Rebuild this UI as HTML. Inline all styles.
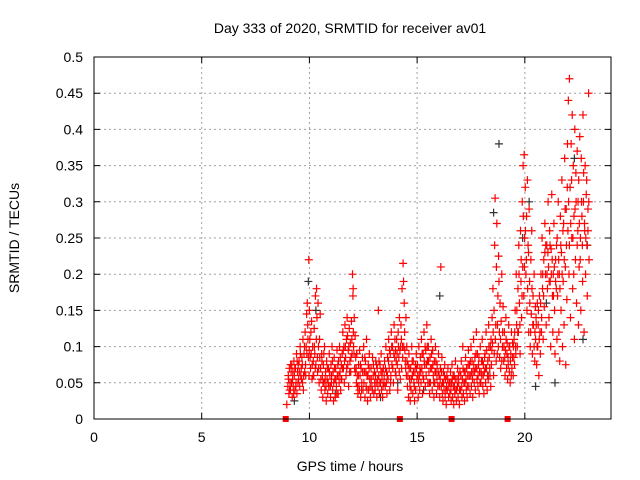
<!DOCTYPE html>
<html><head><meta charset="utf-8"><style>
body{margin:0;background:#fff}
svg{display:block;font-family:"Liberation Sans",sans-serif}
</style></head><body>
<svg id="chart" width="640" height="480" viewBox="0 0 640 480">
<text x="350" y="33" font-size="14" text-anchor="middle">Day 333 of 2020, SRMTID for receiver av01</text>
<text transform="translate(19,238) rotate(-90)" font-size="14" text-anchor="middle">SRMTID / TECUs</text>
<text x="350" y="471" font-size="14" text-anchor="middle">GPS time / hours</text>
<g id="grid"></g><g id="ticks"></g><g id="marks"></g>
<rect x="94" y="57" width="517" height="362" fill="none" stroke="#000" stroke-width="1"/>
</svg>
<script>
const xTicks=[0,5,10,15,20];
const yTicks=[0,0.05,0.1,0.15,0.2,0.25,0.3,0.35,0.4,0.45,0.5];
const yTickLabels=["0","0.05","0.1","0.15","0.2","0.25","0.3","0.35","0.4","0.45","0.5"];
const gapHours=[8.9,14.2,16.6,19.2];
const redPts=[8.95,.02,9.0,.045,9.02,.06,9.05,.035,9.07,.07,9.1,.05,9.12,.04,9.15,.065,9.18,.075,9.2,.03,9.22,.055,9.25,.045,9.28,.08,9.3,.06,9.33,.04,9.35,.07,9.38,.05,9.4,.09,9.42,.035,9.45,.065,9.48,.075,9.5,.055,
9.52,.08,9.55,.045,9.57,.1,9.6,.06,9.62,.07,9.65,.085,9.68,.05,9.7,.11,9.72,.04,9.75,.09,9.78,.065,9.8,.12,9.82,.075,9.85,.1,9.87,.145,9.9,.16,9.92,.13,9.95,.085,9.97,.22,10.0,.15,9.98,.06,
10.02,.11,10.05,.07,10.08,.09,10.1,.135,10.12,.055,10.15,.1,10.18,.08,10.2,.06,10.22,.125,10.25,.09,10.28,.17,10.3,.075,10.33,.18,10.35,.14,10.38,.065,10.4,.16,10.42,.1,10.45,.05,10.48,.085,10.5,.145,
10.52,.07,10.55,.04,10.57,.09,10.6,.06,10.62,.03,10.65,.075,10.68,.05,10.7,.1,10.72,.04,10.75,.065,10.78,.025,10.8,.08,10.82,.055,10.85,.035,10.88,.07,10.9,.045,10.92,.09,10.95,.06,10.98,.03,
11.0,.075,11.02,.05,11.05,.1,11.08,.04,11.1,.065,11.12,.025,11.15,.085,11.18,.055,11.2,.03,11.22,.07,11.25,.045,11.28,.095,11.3,.06,11.33,.035,11.35,.08,11.38,.05,11.4,.1,11.42,.065,11.45,.04,11.48,.075,
11.5,.055,11.52,.09,11.55,.12,11.58,.07,11.6,.1,11.62,.05,11.65,.13,11.68,.085,11.7,.06,11.72,.11,11.75,.14,11.78,.075,11.8,.095,11.82,.045,11.85,.125,11.88,.08,11.9,.105,11.92,.065,11.95,.135,11.98,.09,
12.0,.2,12.02,.17,12.03,.18,12.05,.1,12.08,.14,12.1,.07,12.12,.115,12.15,.085,12.18,.05,12.2,.09,12.22,.06,12.25,.035,12.28,.075,12.3,.045,12.33,.095,12.35,.06,12.38,.03,12.4,.07,12.43,.05,12.46,.085,12.49,.04,
12.52,.1,12.55,.065,12.58,.03,12.6,.08,12.63,.045,12.65,.11,12.68,.06,12.7,.025,12.73,.075,12.75,.04,12.78,.09,12.8,.055,12.83,.03,12.86,.07,12.9,.045,12.93,.085,12.96,.06,12.99,.035,
13.02,.065,13.05,.04,13.08,.08,13.1,.05,13.13,.03,13.15,.07,13.18,.045,13.2,.15,13.22,.06,13.25,.035,13.28,.075,13.3,.05,13.33,.09,13.35,.04,13.38,.065,13.4,.03,13.43,.07,13.46,.05,13.49,.08,
13.52,.045,13.55,.1,13.58,.065,13.6,.035,13.63,.085,13.65,.055,13.68,.11,13.7,.07,13.73,.04,13.75,.09,13.78,.06,13.8,.12,13.83,.075,13.86,.1,13.9,.05,13.93,.13,13.96,.085,13.99,.065,
14.0,.095,14.02,.06,14.05,.11,14.08,.075,14.1,.04,14.12,.12,14.15,.085,14.18,.14,14.2,.095,14.22,.055,14.25,.13,14.28,.07,14.3,.18,14.32,.1,14.35,.215,14.37,.19,14.4,.16,14.42,.12,14.45,.08,14.48,.14,14.5,.06,
14.52,.1,14.55,.045,14.58,.075,14.6,.03,14.62,.09,14.65,.055,14.68,.025,14.7,.07,14.72,.04,14.75,.1,14.78,.06,14.8,.035,14.82,.08,14.85,.05,14.88,.025,14.9,.065,14.93,.04,14.96,.09,14.99,.055,
15.02,.075,15.05,.03,15.08,.1,15.1,.06,15.12,.04,15.15,.085,15.18,.05,15.2,.11,15.22,.07,15.25,.035,15.28,.09,15.3,.055,15.32,.12,15.35,.075,15.38,.045,15.4,.095,15.42,.06,15.45,.13,15.48,.08,
15.5,.05,15.52,.1,15.55,.065,15.58,.035,15.6,.085,15.62,.05,15.65,.11,15.68,.07,15.7,.04,15.72,.095,15.75,.06,15.78,.03,15.8,.08,15.82,.05,15.85,.1,15.88,.065,15.9,.035,15.93,.075,15.96,.045,15.99,.09,
16.02,.06,16.05,.03,16.08,.07,16.1,.21,16.12,.045,16.15,.085,16.18,.05,16.2,.025,16.22,.065,16.25,.04,16.28,.075,16.3,.03,16.32,.055,16.35,.02,16.38,.06,16.4,.04,16.43,.07,16.46,.03,16.49,.05,
16.52,.035,16.55,.065,16.58,.025,16.6,.05,16.62,.075,16.65,.03,16.68,.045,16.7,.02,16.72,.06,16.75,.035,16.78,.08,16.8,.04,16.82,.025,16.85,.055,16.88,.07,16.9,.03,16.93,.05,16.96,.02,16.99,.065,
17.02,.04,17.05,.08,17.08,.03,17.1,.055,17.12,.1,17.15,.035,17.18,.065,17.2,.025,17.22,.05,17.25,.085,17.28,.04,17.3,.07,17.32,.03,17.35,.06,17.38,.095,17.4,.045,17.43,.075,17.46,.035,17.49,.06,
17.5,.1,17.52,.045,17.55,.08,17.58,.03,17.6,.065,17.62,.11,17.65,.05,17.68,.085,17.7,.04,17.72,.07,17.75,.12,17.78,.055,17.8,.09,17.82,.045,17.85,.075,17.88,.035,17.9,.065,17.93,.1,17.96,.05,17.99,.08,
18.0,.06,18.02,.11,18.05,.045,18.08,.075,18.1,.035,18.12,.065,18.15,.09,18.18,.05,18.2,.12,18.22,.07,18.25,.04,18.28,.08,18.3,.055,18.32,.13,18.35,.085,18.38,.06,18.4,.1,18.42,.045,18.45,.075,18.48,.14,
18.5,.105,18.52,.18,18.55,.06,18.57,.15,18.6,.24,18.62,.305,18.65,.13,18.68,.21,18.7,.27,18.72,.09,18.75,.17,18.78,.225,18.8,.19,18.82,.12,18.85,.16,18.88,.07,18.9,.135,18.93,.2,18.96,.1,18.99,.155,
19.02,.08,19.05,.12,19.08,.06,19.1,.095,19.12,.14,19.15,.07,19.18,.105,19.2,.055,19.22,.085,19.25,.13,19.28,.065,19.3,.1,19.32,.05,19.35,.09,19.38,.12,19.4,.07,19.43,.105,19.46,.06,19.49,.085,
19.5,.11,19.52,.075,19.55,.15,19.58,.09,19.6,.2,19.62,.13,19.65,.1,19.68,.18,19.7,.12,19.72,.24,19.75,.16,19.78,.09,19.8,.26,19.82,.19,19.85,.14,19.88,.3,19.9,.21,19.92,.35,19.95,.17,19.97,.365,19.99,.25,
20.02,.32,20.05,.2,20.08,.28,20.1,.15,20.12,.33,20.15,.24,20.18,.12,20.2,.29,20.22,.19,20.25,.1,20.28,.22,20.3,.145,20.32,.26,20.35,.09,20.38,.17,20.4,.13,20.43,.2,20.46,.08,20.49,.155,
20.5,.11,20.52,.14,20.55,.075,20.58,.16,20.6,.1,20.62,.13,20.65,.06,20.68,.17,20.7,.12,20.72,.09,20.75,.2,20.78,.14,20.8,.25,20.82,.18,20.85,.11,20.88,.22,20.9,.155,20.93,.27,20.96,.2,20.99,.13,
21.02,.24,21.05,.18,21.08,.3,21.1,.21,21.12,.14,21.15,.26,21.18,.19,21.2,.1,21.22,.235,21.25,.31,21.28,.17,21.3,.12,21.32,.2,21.35,.27,21.38,.15,21.4,.09,21.43,.22,21.46,.18,21.49,.11,
21.5,.25,21.52,.17,21.55,.3,21.58,.12,21.6,.2,21.62,.08,21.65,.28,21.68,.15,21.7,.23,21.72,.33,21.75,.1,21.78,.19,21.8,.27,21.82,.13,21.85,.36,21.88,.21,21.9,.075,21.92,.29,21.95,.165,21.98,.38,
22.0,.26,22.02,.44,22.05,.2,22.07,.47,22.1,.32,22.12,.14,22.15,.38,22.18,.25,22.2,.42,22.22,.18,22.25,.35,22.28,.28,22.3,.11,22.32,.4,22.35,.22,22.38,.3,22.4,.16,22.43,.37,22.46,.26,22.49,.13,
22.5,.33,22.52,.21,22.55,.39,22.58,.25,22.6,.15,22.62,.36,22.65,.28,22.68,.19,22.7,.42,22.72,.3,22.75,.12,22.78,.26,22.8,.35,22.82,.2,22.85,.31,22.88,.24,22.9,.17,22.93,.29,22.96,.45,22.98,.22];
const redPts2=[9.03,.055,9.08,.04,9.13,.075,9.17,.05,9.23,.065,9.27,.035,9.32,.07,9.37,.045,9.43,.08,9.47,.05,9.53,.065,9.58,.09,9.63,.055,9.67,.075,9.73,.06,9.77,.1,9.83,.06,9.88,.09,9.93,.11,9.99,.095,
10.03,.085,10.07,.12,10.13,.075,10.17,.06,10.23,.1,10.27,.07,10.32,.11,10.37,.085,10.43,.07,10.47,.11,10.53,.055,10.58,.08,10.63,.05,10.67,.09,10.73,.055,10.77,.045,10.83,.07,10.87,.05,10.93,.065,10.97,.045,
11.03,.06,11.07,.08,11.13,.05,11.17,.07,11.23,.055,11.27,.035,11.32,.075,11.37,.06,11.43,.085,11.47,.055,11.53,.07,11.57,.095,11.63,.08,11.67,.1,11.73,.07,11.77,.115,11.83,.1,11.87,.065,11.93,.085,11.97,.11,
12.04,.12,12.07,.09,12.13,.065,12.17,.07,12.23,.045,12.27,.06,12.32,.04,12.37,.075,12.42,.04,12.47,.065,12.53,.05,12.57,.085,12.62,.065,12.67,.04,12.72,.06,12.77,.07,12.82,.045,12.87,.055,12.92,.04,12.97,.075,
13.03,.05,13.07,.06,13.12,.075,13.17,.055,13.23,.08,13.27,.05,13.32,.065,13.37,.055,13.42,.045,13.47,.06,13.53,.07,13.57,.05,13.62,.06,13.67,.08,13.72,.095,13.77,.05,13.82,.1,13.87,.07,13.92,.09,13.97,.11,
14.03,.08,14.07,.09,14.13,.1,14.17,.065,14.23,.1,14.27,.11,14.33,.085,14.38,.1,14.43,.095,14.47,.07,14.53,.08,14.57,.06,14.63,.07,14.67,.045,14.73,.055,14.77,.08,14.83,.065,14.87,.045,14.92,.075,14.97,.07,
15.03,.06,15.07,.05,15.13,.07,15.17,.065,15.23,.09,15.27,.06,15.33,.08,15.37,.1,15.43,.075,15.47,.1,15.53,.08,15.57,.05,15.63,.07,15.67,.09,15.73,.075,15.77,.05,15.83,.065,15.87,.08,15.92,.055,15.97,.065,
16.03,.045,16.07,.055,16.13,.065,16.17,.035,16.23,.05,16.27,.06,16.33,.04,16.37,.045,16.42,.055,16.47,.045,16.53,.05,16.57,.04,16.63,.055,16.67,.06,16.73,.045,16.77,.055,16.83,.04,16.87,.045,16.92,.06,16.97,.04,
17.03,.06,17.07,.045,17.13,.07,17.17,.05,17.23,.065,17.27,.055,17.33,.045,17.37,.075,17.42,.06,17.47,.08,17.53,.065,17.57,.055,17.63,.075,17.67,.065,17.73,.09,17.77,.07,17.83,.06,17.87,.085,17.92,.05,17.97,.065,
18.03,.08,18.07,.06,18.13,.085,18.17,.07,18.23,.095,18.27,.06,18.33,.1,18.37,.07,18.43,.11,18.47,.095,18.53,.12,18.58,.09,18.63,.11,18.67,.08,18.73,.13,18.77,.1,18.83,.085,18.87,.11,18.93,.08,18.97,.12,
19.03,.1,19.07,.085,19.13,.11,19.17,.09,19.23,.075,19.27,.1,19.33,.08,19.37,.06,19.43,.085,19.47,.1,19.53,.12,19.57,.1,19.63,.15,19.67,.12,19.73,.2,19.77,.13,19.83,.22,19.87,.17,19.93,.28,19.98,.21,
20.03,.26,20.07,.22,20.13,.18,20.17,.23,20.23,.16,20.27,.12,20.33,.18,20.37,.13,20.43,.1,20.47,.12,20.53,.13,20.57,.1,20.63,.15,20.67,.11,20.73,.16,20.77,.12,20.83,.2,20.87,.17,20.93,.23,20.97,.24,
21.03,.2,21.07,.23,21.13,.19,21.17,.24,21.23,.2,21.27,.22,21.33,.17,21.37,.21,21.43,.19,21.47,.24,21.53,.2,21.57,.22,21.63,.18,21.67,.24,21.73,.2,21.77,.26,21.83,.22,21.87,.29,21.93,.24,21.97,.32,
22.03,.3,22.07,.24,22.13,.27,22.17,.33,22.23,.25,22.27,.2,22.33,.29,22.37,.34,22.43,.24,22.47,.3,22.53,.27,22.57,.22,22.63,.3,22.67,.24,22.73,.34,22.77,.27,22.83,.25,22.87,.33,22.93,.26,22.97,.3];
const blackPts=[9.95,.19,10.3,.15,12.2,.09,14.1,.05,15.3,.04,16.05,.17,18.8,.38,18.55,.285,19.9,.25,20.5,.045,21.0,.16,21.4,.05,22.3,.36,22.9,.24,22.7,.11,20.2,.3,18.3,.06,13.3,.03,11.2,.035,9.3,.025];

const X0=94,X1=611,Y0=419,Y1=57,XMAX=24,YMAX=0.5;
function xs(h){return X0+(X1-X0)*h/XMAX;}
function ys(v){return Y0-(Y0-Y1)*v/YMAX;}
const NS="http://www.w3.org/2000/svg";
const grid=document.getElementById('grid'),ticks=document.getElementById('ticks'),marks=document.getElementById('marks');
function mk(tag,attrs,parent){const e=document.createElementNS(NS,tag);for(const k in attrs)e.setAttribute(k,attrs[k]);parent.appendChild(e);return e;}
xTicks.forEach(t=>{
  const x=xs(t);
  if(t>0){const g=mk('line',{x1:x,x2:x,y1:Y0,y2:Y1,stroke:'#a0a0a0','stroke-dasharray':'2,3'},grid);
  
  }
  const tk=mk('path',{d:`M${x},${Y0}v-6M${x},${Y1}v6`,stroke:'#000'},ticks);
  
  
  const l=mk('text',{x:x,y:442,'font-size':14,'text-anchor':'middle'},ticks);l.textContent=t;
  
  
});
yTicks.forEach((t,i)=>{
  const y=ys(t);
  if(t>0&&t<0.5){const g=mk('line',{x1:X0,x2:X1,y1:y,y2:y,stroke:'#a0a0a0','stroke-dasharray':'2,3'},grid);
  
  }
  const tk=mk('path',{d:`M${X0},${y}h6M${X1},${y}h-6`,stroke:'#000'},ticks);
  
  
  const l=mk('text',{x:83,y:y+5,'font-size':14,'text-anchor':'end'},ticks);l.textContent=yTickLabels[i];
  
  
});
function plus(arr,color,name){
  for(let i=0;i<arr.length;i+=2){
    const x=xs(arr[i]),y=ys(arr[i+1]);
    const p=mk('path',{d:`M${x-4},${y}h8M${x},${y-4}v8`,stroke:color,'stroke-width':1.2,fill:'none'},marks);
    
    
  }
}
plus(blackPts,'#333','black-point');
plus(redPts,'#ff0000','red-point');
plus(redPts2,'#ff0000','red-point');
gapHours.forEach(h=>{
  const r=mk('rect',{x:xs(h)-3,y:Y0-3,width:6,height:6,fill:'#ff0000'},marks);
  
  
});
</script>
</body></html>
